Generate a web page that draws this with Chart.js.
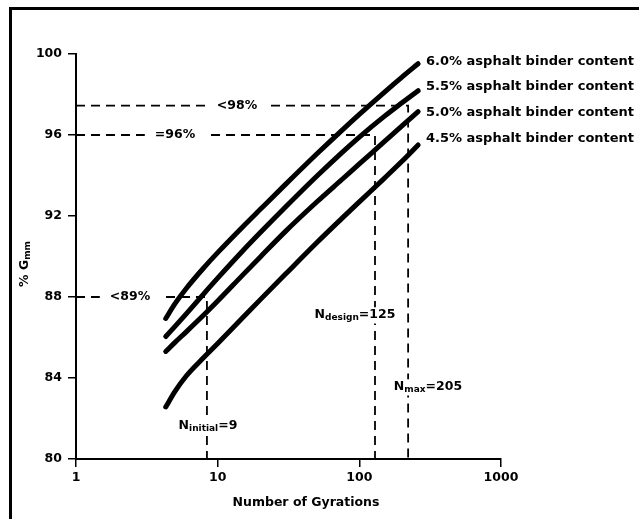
<!DOCTYPE html>
<html><head><meta charset="utf-8">
<script src="https://cdn.jsdelivr.net/npm/chart.js@4/dist/chart.umd.min.js"></script>
<style>html,body{margin:0;padding:0;background:#fff;}</style>
</head><body>
<canvas id="c" width="639" height="519"></canvas>
<script>
// ---- data ----
const gyrations = [4.3, 5, 6, 8, 10, 15, 20, 30, 50, 75, 100, 150, 200, 260];
const binder60 = [86.94, 87.67, 88.42, 89.45, 90.19, 91.46, 92.33, 93.55, 95.06, 96.22, 97.02, 98.11, 98.86, 99.52];
const binder55 = [86.05, 86.55, 87.17, 88.17, 88.93, 90.27, 91.18, 92.43, 93.96, 95.12, 95.90, 96.92, 97.59, 98.19];
const binder50 = [85.31, 85.76, 86.28, 87.12, 87.80, 89.08, 89.98, 91.23, 92.69, 93.79, 94.57, 95.67, 96.45, 97.15];
const binder45 = [82.57, 83.34, 84.10, 85.02, 85.70, 86.97, 87.87, 89.12, 90.68, 91.87, 92.70, 93.86, 94.70, 95.51];
const seriesLabels = ['6.0% asphalt binder content', '5.5% asphalt binder content', '5.0% asphalt binder content', '4.5% asphalt binder content'];

const levelLabels = ['<98%', '=96%', '<89%'];
const levelValues = [97.45, 96.0, 88.0];
const nNames = ['max', 'design', 'initial'];
const nTexts = ['=205', '=125', '=9'];
const nLinePositions = [221, 129, 8.4];

const xTicks = [1, 10, 100, 1000];
const yTicks = [80, 84, 88, 92, 96, 100];
const xTitle = 'Number of Gyrations';

const FONT = 'DejaVu Sans';

const curveSets = [binder60, binder55, binder50, binder45].map((vals, i) => ({
  label: seriesLabels[i],
  data: gyrations.map((g, j) => ({x: g, y: vals[j]})),
  borderColor: '#000', borderWidth: 5, pointRadius: 0,
  borderCapStyle: 'round', borderJoinStyle: 'round',
  cubicInterpolationMode: 'monotone', fill: false, order: 0, clip: false
}));
const dashSets = levelValues.map((lv, i) => ({
  label: levelLabels[i],
  data: [{x: xTicks[0], y: lv}, {x: nLinePositions[i], y: lv}, {x: nLinePositions[i], y: yTicks[0]}],
  borderColor: '#000', borderWidth: 1.8, borderDash: [9, 6], pointRadius: 0,
  tension: 0, fill: false, order: 1, clip: false
}));

function subText(ctx, x, y, main, sub, tail, size, align) {
  ctx.font = 'bold ' + size + 'px ' + FONT;
  const w1 = ctx.measureText(main).width;
  const w3 = ctx.measureText(tail).width;
  ctx.font = 'bold ' + Math.round(size * 0.72) + 'px ' + FONT;
  const w2 = ctx.measureText(sub).width;
  const total = w1 + w2 + w3;
  let x0 = align === 'center' ? x - total / 2 : (align === 'right' ? x - total : x);
  return {total, draw: (mask) => {
    if (mask) { ctx.fillStyle = '#fff'; ctx.fillRect(x0 - 2, y - size * 0.62, total + 4, size * 1.3); }
    ctx.fillStyle = '#000';
    ctx.textBaseline = 'middle'; ctx.textAlign = 'left';
    ctx.font = 'bold ' + size + 'px ' + FONT;
    ctx.fillText(main, x0, y);
    ctx.font = 'bold ' + Math.round(size * 0.72) + 'px ' + FONT;
    ctx.fillText(sub, x0 + w1, y + size * 0.22);
    ctx.font = 'bold ' + size + 'px ' + FONT;
    ctx.fillText(tail, x0 + w1 + w2, y);
  }};
}

const decor = {
  id: 'decor',
  beforeDraw(chart) {
    const ctx = chart.ctx;
    ctx.save();
    ctx.fillStyle = '#fff'; ctx.fillRect(0, 0, chart.width, chart.height);
    ctx.strokeStyle = '#000'; ctx.lineWidth = 3;
    ctx.beginPath(); ctx.moveTo(9, 8.5); ctx.lineTo(chart.width, 8.5); ctx.stroke();
    ctx.beginPath(); ctx.moveTo(10.5, 7); ctx.lineTo(10.5, chart.height); ctx.stroke();
    ctx.restore();
  },
  afterDatasetsDraw(chart) {
    const ctx = chart.ctx;
    const ys = chart.scales.y;
    ctx.save();
    const levelX = [237, 175, 130];
    levelValues.forEach((lv, i) => {
      const y = ys.getPixelForValue(lv);
      ctx.font = 'bold 12.5px ' + FONT;
      const w = ctx.measureText(levelLabels[i]).width;
      ctx.fillStyle = '#fff';
      ctx.fillRect(levelX[i] - w / 2 - 10, y - 4, w + 20, 8);
      ctx.fillStyle = '#000'; ctx.textAlign = 'center'; ctx.textBaseline = 'middle';
      ctx.fillText(levelLabels[i], levelX[i], y);
    });
    const nPos = [[428, 387], [355, 315], [208, 426]];
    nNames.forEach((nm, i) => {
      const t = subText(ctx, nPos[i][0], nPos[i][1], 'N', nm, nTexts[i], 12.5, 'center');
      t.draw(true);
    });
    const labelY = [62, 87, 113, 139];
    ctx.fillStyle = '#000'; ctx.textAlign = 'left'; ctx.textBaseline = 'middle';
    ctx.font = 'bold 13px ' + FONT;
    seriesLabels.forEach((s, i) => ctx.fillText(s, 426, labelY[i]));
    ctx.font = 'bold 12.5px ' + FONT;
    ctx.textAlign = 'center'; ctx.textBaseline = 'middle';
    ctx.fillText(xTitle, 306, 503);
    ctx.save();
    ctx.translate(25, 264);
    ctx.rotate(-Math.PI / 2);
    const yt = subText(ctx, 0, 0, '% G', 'mm', '', 12.5, 'center');
    yt.draw(false);
    ctx.restore();
    ctx.restore();
  }
};

const tickFont = {family: FONT, size: 12.5, weight: 'bold'};
new Chart(document.getElementById('c'), {
  type: 'line',
  data: {datasets: [...curveSets, ...dashSets]},
  options: {
    responsive: false, animation: false, devicePixelRatio: 1,
    layout: {padding: {top: 54, right: 138, bottom: 0, left: 0}},
    plugins: {legend: {display: false}, tooltip: {enabled: false}},
    scales: {
      x: {
        type: 'logarithmic', min: 1, max: 1000,
        afterBuildTicks: s => { s.ticks = xTicks.map(v => ({value: v})); },
        ticks: {callback: v => String(v), font: tickFont, color: '#000', padding: 3, maxRotation: 0, autoSkip: false},
        grid: {drawOnChartArea: false, drawTicks: true, tickLength: 8, color: '#000', lineWidth: 1.5},
        border: {display: true, color: '#000', width: 2},
        afterFit: s => { s.height = 60; }
      },
      y: {
        type: 'linear', min: 80, max: 100,
        afterBuildTicks: s => { s.ticks = yTicks.map(v => ({value: v})); },
        ticks: {font: tickFont, color: '#000', padding: 6},
        grid: {drawOnChartArea: false, drawTicks: true, tickLength: 8, color: '#000', lineWidth: 1.5},
        border: {display: true, color: '#000', width: 2},
        afterFit: s => { s.width = 76; }
      }
    }
  },
  plugins: [decor]
});
</script>
</body></html>
